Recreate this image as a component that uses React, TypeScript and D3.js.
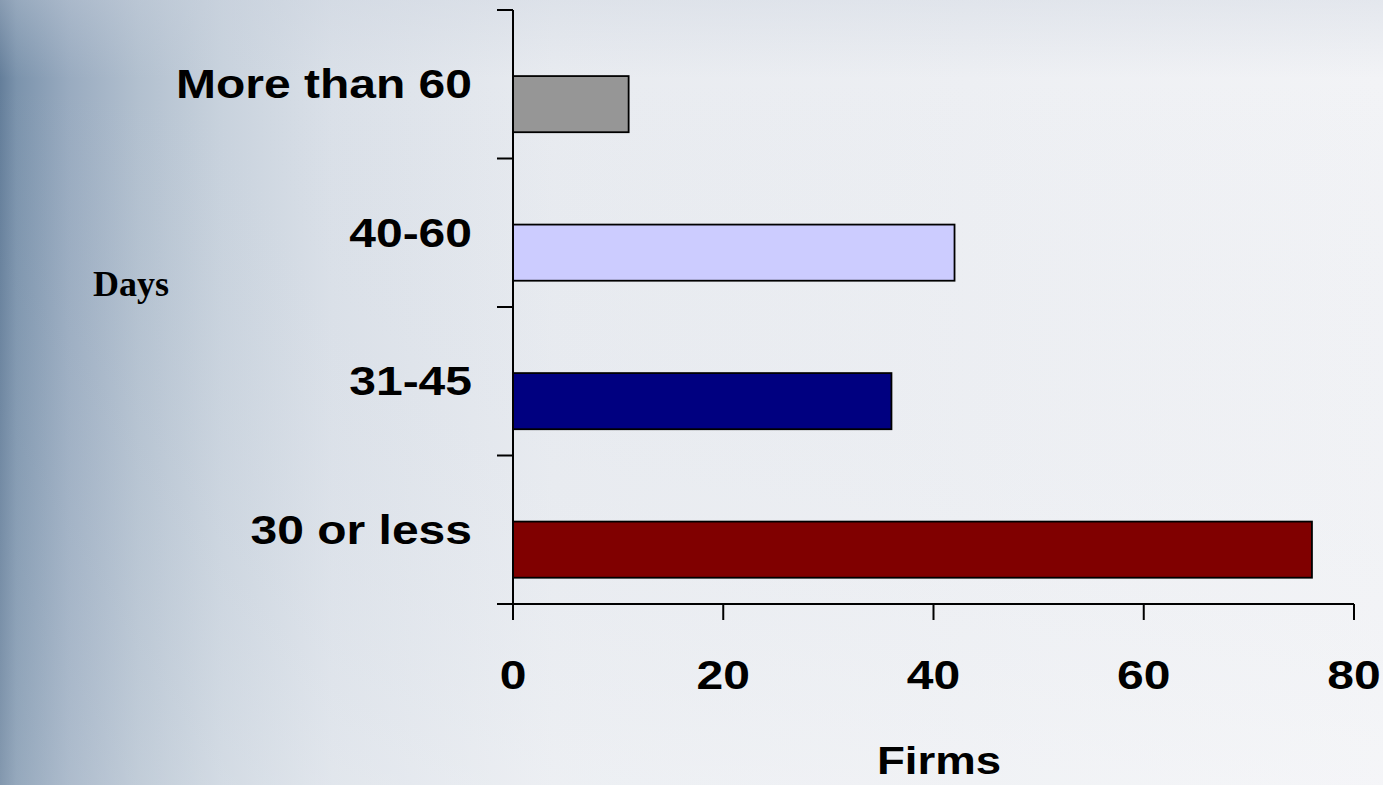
import React from "react";
import * as d3 from "d3";

const categories = ["More than 60", "40-60", "31-45", "30 or less"];
const values = [11, 42, 36, 76];
const colors = ["#969696", "#ccccff", "#000080", "#800000"];
const xTicks = [0, 20, 40, 60, 80];
const xTitle = "Firms";
const yTitle = "Days";

const W = 1383;
const H = 785;
const SX = 1.2; // horizontal stretch seen in the reference text

export default function App() {
  const x = d3.scaleLinear().domain([0, 80]).range([513, 1354]);
  const y = d3.scaleBand<string>().domain(categories).range([10, 604]).padding(0);
  const step = y.step();
  const barOff = step * 0.445;
  const barH = step * 0.378;
  const bounds = d3.range(categories.length + 1).map((i) => 10 + i * step);
  const font = "'Liberation Sans', Arial, sans-serif";

  return (
    <svg
      width={W}
      height={H}
      style={{ position: "absolute", left: 0, top: 0, display: "block" }}
    >
      <defs>
        <linearGradient id="bgH" x1="0" y1="0" x2="1" y2="0">
          <stop offset="0" stopColor="#647e9a" />
          <stop offset="0.012" stopColor="#7b93ac" />
          <stop offset="0.05" stopColor="#99abc0" />
          <stop offset="0.1" stopColor="#b2c0cf" />
          <stop offset="0.16" stopColor="#c8d2dd" />
          <stop offset="0.24" stopColor="#dae0e8" />
          <stop offset="0.4" stopColor="#e8ebf0" />
          <stop offset="1" stopColor="#f2f3f6" />
        </linearGradient>
        <linearGradient id="bgV" x1="0" y1="0" x2="0" y2="1">
          <stop offset="0" stopColor="#c9d1dd" stopOpacity="0.35" />
          <stop offset="0.1" stopColor="#c9d1dd" stopOpacity="0" />
          <stop offset="1" stopColor="#ffffff" stopOpacity="0.2" />
        </linearGradient>
      </defs>
      <rect x={0} y={0} width={W} height={H} fill="url(#bgH)" />
      <rect x={0} y={0} width={W} height={H} fill="url(#bgV)" />

      {/* bars */}
      {categories.map((c, i) => (
        <rect
          key={c}
          x={x(0)}
          y={(y(c) as number) + barOff}
          width={x(values[i]) - x(0)}
          height={barH}
          fill={colors[i]}
          stroke="#000"
          strokeWidth={1.8}
        />
      ))}

      {/* y axis */}
      <line x1={x(0)} x2={x(0)} y1={bounds[0]} y2={bounds[bounds.length - 1]} stroke="#000" strokeWidth={2} />
      {bounds.map((b, i) => (
        <line key={i} x1={x(0) - 16} x2={x(0)} y1={b} y2={b} stroke="#000" strokeWidth={2} />
      ))}

      {/* x axis */}
      <line x1={x(0)} x2={x(80)} y1={604} y2={604} stroke="#000" strokeWidth={2} />
      {xTicks.map((t) => (
        <g key={t}>
          <line x1={x(t)} x2={x(t)} y1={604} y2={620} stroke="#000" strokeWidth={2} />
          <text
            transform={`translate(${x(t)},689) scale(${SX},1)`}
            textAnchor="middle"
            fontFamily={font}
            fontWeight="bold"
            fontSize={40}
            fill="#000"
          >
            {t}
          </text>
        </g>
      ))}

      {/* category labels */}
      {categories.map((c) => (
        <text
          key={c}
          transform={`translate(472,${(y(c) as number) + step / 2 + 14}) scale(${SX},1)`}
          textAnchor="end"
          fontFamily={font}
          fontWeight="bold"
          fontSize={40}
          fill="#000"
        >
          {c}
        </text>
      ))}

      {/* axis titles */}
      <text
        transform={`translate(939,774) scale(${SX},1)`}
        textAnchor="middle"
        fontFamily={font}
        fontWeight="bold"
        fontSize={38}
        fill="#000"
      >
        {xTitle}
      </text>
      <text
        transform={`translate(131,296)`}
        textAnchor="middle"
        fontFamily="'Liberation Serif', 'Times New Roman', serif"
        fontWeight="bold"
        fontSize={36}
        fill="#000"
      >
        {yTitle}
      </text>
    </svg>
  );
}
